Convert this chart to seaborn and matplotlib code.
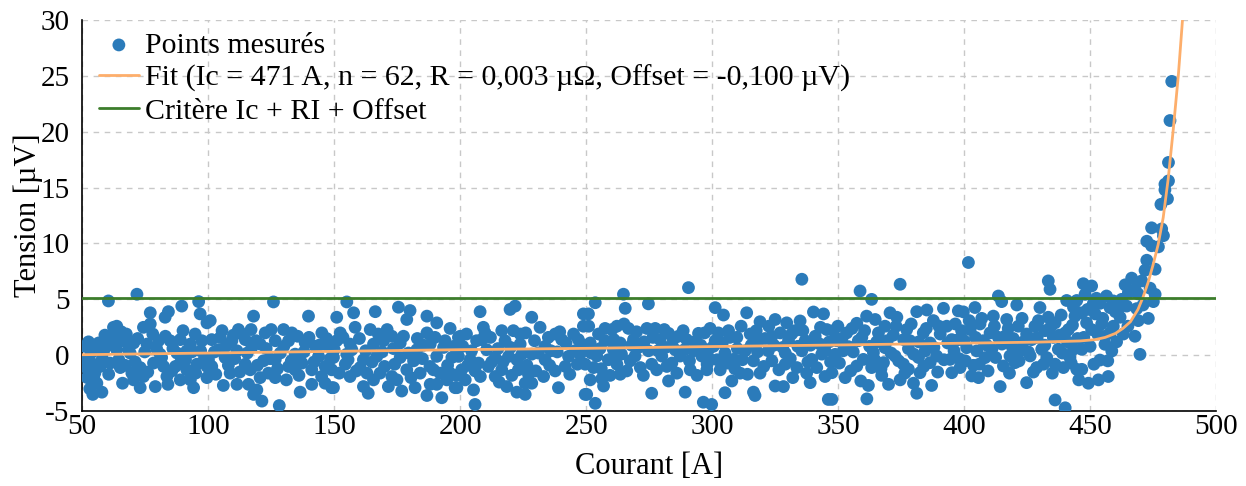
from matplotlib import pyplot as plt
import numpy as np
import pandas as pd
import seaborn as sns

pts_050_100 = [(51.0, 0.8), (51.5, -0.5), (51.6, -1.1), (52.0, -2.0), (52.5, 1.2), (53.0, -3.0),
               (54.2, -3.5), (53.2, -1.3), (54.5, 0.4), (54.5, -0.8), (54.5, -2.0), (55.8, -2.5),
               (56.5, 1.1), (57.1, -1.0), (57.8, -3.3), (58.5, 0.4), (59.8, 1.0), (60.4, 4.86),
               (61.1, -0.7), (62.4, 2.5), (62.4, 1.6), (63.7, 2.6), (63.7, 0.5), (65.1, -1.1),
               (66.4, 1.3), (68.4, 0.5), (69.7, -1.6), (70.4, 1.1), (70.4, -2.2), (71.7, 5.46),
               (73.0, -1.1), (73.0, -2.9), (74.3, 2.5), (74.3, -1.9), (75.7, 1.0), (77.0, 3.8),
               (77.0, 2.8), (78.3, -0.7), (79.0, -2.8), (80.3, 1.3), (80.9, 0.1), (82.3, -1.0),
               (82.9, 3.4), (83.6, -1.9), (84.2, 3.9), (84.9, 1.3), (85.6, -1.4), (87.6, 0.2),
               (88.9, 1.4), (88.9, -0.7), (88.9, -2.2), (89.5, 4.4), (91.5, 0.4), (91.5, -1.3),
               (92.9, 1.0), (92.9, -2.2), (94.2, -2.9), (94.8, 1.9), (95.5, -0.8), (96.2, 4.8),
               (96.8, 3.7), (97.5, 1.3), (99.5, 2.9), (99.5, -1.0), (99.5, -2.0),
               (53.5, 0.2), (55.0, -1.6), (56.0, 0.6), (58.0, -0.3), (59.0, 1.8), (60.5, -1.7),
               (62.0, 0.9), (64.5, -0.4), (65.5, 2.1), (67.0, -0.9), (67.5, 1.9), (69.0, 0.2),
               (71.0, -0.6), (72.0, 1.5), (74.8, 0.3), (76.0, -1.5), (78.0, 1.9), (79.5, 0.6),
               (81.5, -0.2), (83.0, 1.7), (86.0, 0.6), (87.0, -1.0), (90.0, 2.2), (91.0, -0.4),
               (93.5, 0.3), (95.0, -1.6), (97.0, 0.4), (98.5, -0.3), (66.0, -2.5), (84.0, -2.6)]
pts_100_150 = [(100.1, -0.4), (100.8, 3.1), (101.4, 1.4), (101.4, -1.0), (104.1, 0.5), (104.8, 1.6),
               (106.7, -0.2), (108.7, -1.6), (109.4, 1.3), (111.4, 0.4), (111.4, -2.6), (112.0, 2.3),
               (113.4, 1.9), (114.7, 1.4), (114.7, -0.8), (116.0, -2.6), (116.7, -1.3), (117.3, 0.7),
               (118.0, 3.5), (119.3, -3.1), (120.6, 1.0), (120.6, -2.0), (121.3, -4.1), (121.9, -0.5),
               (122.6, 2.0), (123.9, -1.6), (125.9, 4.77), (126.6, 1.3), (126.6, -0.4), (126.6, -2.0),
               (128.2, -4.5), (128.6, 0.2), (129.9, 2.3), (131.9, 1.3), (131.9, -1.0), (133.2, 2.0),
               (134.5, 0.1), (134.5, -1.3), (136.5, -3.3), (137.2, -0.7), (138.5, 1.1), (139.8, 3.5),
               (141.1, -1.3), (141.1, -2.6), (142.5, 0.8), (143.8, -0.1), (145.1, 2.0), (146.4, -1.0),
               (146.4, -2.5), (147.7, 0.8), (149.0, -2.9),
               (102.5, 0.3), (103.0, -1.7), (105.5, 2.2), (107.0, 0.8), (108.0, -0.9), (110.0, 1.8),
               (110.5, -0.3), (112.5, -1.5), (115.5, 0.2), (117.0, 2.3), (119.0, 1.3), (119.5, -0.9),
               (123.0, 0.6), (124.5, -0.3), (125.0, 2.3), (127.5, -1.2), (130.0, 0.8), (131.0, -2.2),
               (133.0, -0.5), (135.5, 1.7), (136.0, -1.8), (138.0, 0.3), (140.0, 1.6), (142.0, -0.6),
               (144.0, 0.9), (145.0, -1.9), (147.0, 1.5), (148.5, -0.3), (106.0, -2.7), (118.0, -3.5)]
pts_150_200 = [(149.0, -1.3), (149.7, -0.2), (149.7, -2.9), (151.0, 3.4), (151.0, 1.3), (152.4, 2.0),
               (154.4, -0.8), (155.0, 4.77), (155.0, 0.1), (156.3, 1.0), (156.3, -1.9), (157.7, 3.8),
               (158.3, 2.5), (160.3, -1.1), (161.6, -0.4), (161.6, -2.8), (164.3, 2.3), (165.6, 1.0),
               (165.6, -2.2), (166.3, 3.9), (166.9, -0.1), (168.2, -1.6), (169.6, 1.3), (171.5, -2.8),
               (172.9, 1.7), (172.9, -1.9), (174.9, -2.2), (175.5, 4.3), (176.2, 1.1), (176.2, -0.2),
               (176.8, -3.2), (178.8, 3.2), (178.8, -1.3), (180.1, 4.0), (181.5, -0.5), (182.1, -2.9),
               (182.8, 0.5), (184.1, -1.6), (186.8, 3.5), (186.8, 2.0), (186.8, -3.6), (188.1, 1.0),
               (188.1, -2.6), (189.4, -1.3), (190.7, 2.9), (190.7, -0.1), (190.7, -2.6), (192.7, -3.8),
               (193.4, 0.7), (194.7, -2.2), (196.0, 2.4), (196.0, -1.6), (196.7, -0.2), (198.0, -2.9),
               (199.3, 1.6),
               (150.0, 0.5), (152.0, -1.6), (153.5, 1.6), (155.5, -0.4), (157.0, 0.5), (158.8, -1.4),
               (160.0, 1.5), (162.5, 0.4), (163.0, -1.6), (165.0, -0.6), (167.5, 1.9), (169.0, 0.3),
               (170.0, -1.0), (171.0, 2.3), (173.5, 0.6), (174.0, -0.8), (177.5, 1.7), (179.5, 0.2),
               (180.5, -2.0), (183.0, 1.5), (185.0, -0.3), (185.5, 0.9), (188.0, -1.0), (190.0, 1.6),
               (192.0, -1.6), (194.0, 1.3), (195.0, -0.9), (197.5, 0.8), (198.5, -1.8), (163.5, -3.4)]
pts_200_250 = [(198.7, -2.9), (199.3, -0.1), (200.0, 1.7), (200.6, -1.3), (202.0, -2.2), (204.0, -0.4),
               (205.3, -3.1), (205.9, -1.4), (205.9, -4.4), (207.3, -0.7), (207.9, 3.9), (208.6, 1.4),
               (209.2, 2.5), (209.9, 2.0), (211.2, -1.0), (213.9, -0.2), (213.9, -1.9), (216.5, 2.2),
               (216.5, -1.3), (217.8, 1.3), (218.5, -2.8), (219.2, -0.1), (219.8, 4.1), (221.1, 2.2),
               (221.8, 4.4), (222.5, -0.4), (222.5, -3.3), (223.1, -1.3), (223.8, 1.9), (223.8, 1.0),
               (225.8, -2.5), (225.8, -3.5), (227.1, -1.7), (228.4, 3.4), (228.4, 0.1), (228.4, -2.5),
               (231.7, 2.5), (233.1, -1.9), (233.7, 0.8), (233.7, -0.4), (237.7, 1.9), (237.7, -1.4),
               (239.0, -2.9), (240.3, 1.4), (241.7, -1.0), (243.0, -0.1), (245.0, 1.9), (246.9, 1.4),
               (247.6, 0.1), (248.9, 3.7), (248.9, 2.6), (249.6, -3.5),
               (201.0, 0.8), (202.5, 1.9), (203.0, -0.9), (204.5, 0.4), (206.5, 1.3), (208.0, -1.9),
               (210.5, 0.5), (212.0, 1.6), (212.5, -0.6), (215.0, 0.6), (215.5, -2.4), (217.0, -0.6),
               (220.0, 0.7), (220.5, -1.8), (224.5, 0.1), (226.0, 2.0), (226.5, -0.9), (229.5, 1.3),
               (230.0, -1.4), (231.0, 0.2), (235.0, 1.6), (235.5, -0.9), (236.0, 0.4), (238.5, 0.3),
               (239.5, 2.1), (242.0, 1.1), (243.5, -1.7), (245.5, 0.4), (246.5, -0.8), (248.0, 1.0)]
pts_250_300 = [(249.6, 0.5), (249.6, -0.8), (250.2, -3.5), (250.9, 3.7), (251.6, 1.1), (251.6, -2.2),
               (252.9, -1.1), (253.6, 4.7), (253.6, -4.3), (254.2, -0.07), (254.9, 1.9), (256.2, -2.1),
               (256.9, -2.75), (257.5, 1.3), (258.8, -0.4), (260.2, 2.3), (260.8, 0.5), (262.2, 2.6),
               (262.2, -0.8), (263.5, 1.1), (263.5, -1.7), (264.8, 5.46), (265.5, 4.2), (266.1, -1.4),
               (266.8, 2.4), (268.8, 1.4), (269.4, -0.07), (270.7, 0.7), (272.7, -1.8), (274.1, 2.4),
               (274.7, 4.6), (274.7, 0.4), (276.0, -0.8), (276.0, -3.4), (277.4, 2.4), (278.0, -1.3),
               (279.3, 1.4), (280.0, -0.07), (282.0, -1.0), (282.7, 1.96), (282.7, -2.3), (285.3, 0.5),
               (286.6, 1.7), (287.3, -0.07), (289.3, -3.3), (289.9, 1.4), (290.6, 6.05), (291.3, -1.3),
               (292.6, 0.4), (294.6, 1.96), (295.9, -0.07), (296.5, -4.2), (297.9, -1.3),
               (251.0, 2.6), (252.0, 0.2), (255.5, 0.6), (256.0, -1.2), (257.5, 2.4), (259.5, -1.8),
               (261.0, 1.4), (261.5, -0.2), (264.0, 0.1), (265.0, 2.8), (267.5, -0.5), (268.0, 0.9),
               (270.0, 2.1), (271.5, -1.1), (273.0, 1.2), (276.5, 1.6), (278.5, 0.4), (281.0, 2.3),
               (281.5, 0.7), (284.0, -0.7), (284.5, 1.4), (286.0, -1.6), (288.5, 2.2), (289.0, 0.5),
               (291.0, -0.5), (293.0, 1.2), (294.0, -1.8), (295.5, 0.9), (297.0, 2.0), (298.0, -0.8)]
pts_300_350 = [(298.5, 0.5), (299.2, 2.4), (299.2, -0.37), (299.8, -4.4), (301.2, 4.26), (301.2, 1.3),
               (303.2, -1.3), (304.5, 3.6), (305.1, 0.2), (305.1, -3.35), (306.5, 2.2), (307.8, -2.3),
               (308.4, -0.37), (309.8, 1.6), (311.1, -1.6), (313.1, 0.4), (313.7, 3.8), (315.1, 1.9),
               (316.4, -0.5), (316.4, -3.3), (317.0, -3.6), (318.4, 1.3), (319.0, 3.0), (319.0, -1.6),
               (322.3, 0.4), (323.7, 1.7), (323.7, -0.5), (325.0, 3.2), (325.0, -2.75), (328.3, -2.8),
               (329.0, 0.2), (329.0, -0.8), (329.6, 2.9), (330.3, 1.3), (332.9, 2.2), (333.6, -1.1),
               (334.9, 3.07), (335.6, 6.8), (335.6, 0.4), (336.9, 1.3), (337.5, -1.6), (338.9, -2.45),
               (339.5, -0.37), (340.2, 3.87), (340.9, 1.7), (342.8, 1.0), (344.2, 3.7), (344.8, 0.4),
               (344.8, -1.9), (345.5, 2.3), (346.1, -3.95),
               (300.5, 0.8), (302.0, -0.4), (302.5, 2.0), (304.0, 1.1), (306.0, -0.7), (307.0, 1.6),
               (309.0, -1.2), (310.0, 0.6), (311.5, 2.6), (312.0, -0.4), (314.0, -1.7), (315.5, 0.9),
               (317.5, 2.2), (318.0, 0.3), (320.5, -1.0), (321.0, 1.5), (322.5, 2.6), (324.5, 0.9),
               (326.5, -1.3), (327.0, 2.0), (328.0, 0.7), (331.0, -0.3), (331.5, 1.9), (332.0, -2.0),
               (334.0, 0.8), (336.0, 2.2), (338.0, -0.6), (339.0, 0.9), (341.5, -1.1), (343.0, 2.5),
               (343.5, 0.1), (346.5, 1.2), (347.0, -0.6)]
pts_350_400 = [(347.5, -1.56), (347.5, -3.95), (348.1, 2.2), (348.8, 0.08), (349.4, 1.3), (352.8, -2.0),
               (353.4, 2.0), (354.1, 0.77), (357.4, 2.86), (357.4, -0.96), (358.7, 5.75), (359.4, 1.6),
               (360.0, -0.37), (361.3, 3.5), (361.4, -3.9), (362.0, -2.7), (363.3, 5.0), (363.3, -1.1),
               (364.0, 0.23), (364.7, 3.2), (365.3, 1.2), (367.3, -1.8), (368.0, -0.66), (368.6, 2.6),
               (368.6, 0.68), (370.6, 3.8), (371.9, 1.8), (372.6, -0.07), (373.3, 3.4), (374.6, 6.35),
               (374.6, -2.2), (375.9, -0.8), (377.2, 2.3), (377.9, 0.59), (377.9, -1.26), (378.5, 1.3),
               (379.9, -2.5), (381.2, 3.9), (381.2, -3.4), (381.9, -0.2), (382.5, -1.56), (383.8, 2.0),
               (384.5, 0.38), (385.2, 4.05), (386.5, 1.1), (386.5, -0.66), (387.1, -2.7), (387.8, 3.1),
               (389.1, -0.07), (390.5, 1.9), (391.8, 4.2), (393.1, 2.6), (394.4, -0.37), (395.1, 1.4),
               (395.1, -1.56),
               (349.9, 2.6), (350.5, -0.7), (351.5, 1.5), (352.0, 0.4), (355.0, -1.4), (355.5, 2.4),
               (356.0, 0.3), (358.0, 1.3), (359.0, -2.3), (360.5, 2.2), (362.5, 0.8), (364.5, -0.4),
               (366.0, 2.0), (367.0, -1.2), (369.5, 1.3), (370.0, -2.6), (371.0, 0.2), (373.0, 2.6),
               (374.0, -0.5), (376.0, 1.4), (376.5, -1.6), (379.0, 2.8), (380.0, 0.1), (382.0, 1.2),
               (384.0, -1.0), (385.0, 2.4), (388.0, 0.7), (389.5, -1.5), (390.0, 2.6), (392.0, -0.4),
               (393.5, 1.1), (396.0, 0.4), (396.5, 2.8), (398.0, -0.3)]
pts_400_446 = [(397.7, 3.97), (397.7, 1.4), (398.4, -1.1), (399.0, 2.2), (399.7, 3.88), (401.0, 0.68),
               (401.7, 8.3), (402.4, 2.3), (403.0, -1.85), (403.7, -0.9), (404.3, 4.27), (405.0, 0.39),
               (405.7, -2.0), (406.3, 2.8), (407.6, 1.3), (408.3, -0.21), (410.3, 2.0), (411.0, 0.54),
               (411.6, 3.5), (413.6, 5.3), (413.6, 1.6), (414.3, -2.8), (414.9, 4.8), (415.6, -0.96),
               (416.2, 1.7), (416.9, 3.2), (418.2, -0.06), (419.5, 1.5), (420.2, -0.66), (420.9, 4.5),
               (421.5, 2.6), (422.2, 0.39), (424.8, 1.9), (424.8, -2.45), (426.2, -0.06), (426.8, 1.4),
               (428.1, 2.6), (428.8, -1.1), (430.1, 4.27), (430.8, 0.54), (432.1, 2.2), (432.8, -0.21),
               (433.4, 6.65), (433.4, 3.4), (434.1, 5.9), (435.4, 1.6), (436.1, 2.9), (436.1, -0.8),
               (436.1, -4.0), (437.4, 0.54), (439.4, -1.1), (440.1, 2.0), (440.1, -4.7), (440.7, 4.9),
               (441.4, 2.3), (442.0, -0.21), (443.4, 4.3), (443.4, 0.54), (444.0, 3.5), (444.7, 4.9),
               (444.7, -1.26),
               (400.0, 1.3), (400.5, -0.5), (402.0, 3.1), (404.5, 1.6), (406.0, -0.8), (407.0, 3.3),
               (409.0, 0.9), (409.5, -1.4), (412.0, 2.6), (412.5, -0.2), (415.0, 1.0), (417.5, 2.4),
               (418.0, -1.6), (419.0, 0.8), (421.8, -0.5), (423.0, 3.3), (423.5, 1.2), (425.5, 0.3),
               (427.5, -1.5), (429.0, 1.6), (429.5, 3.1), (431.5, -0.8), (432.0, 0.9), (434.5, 2.6),
               (435.0, -1.6), (437.8, 1.8), (438.5, 3.6), (439.0, 0.2), (441.0, 1.2), (442.5, -0.7),
               (443.0, 2.7), (445.0, 1.5), (445.5, -2.2)]
pts_446_483 = [(446.7, 3.8), (446.7, 0.53), (446.7, -1.26), (447.3, 6.4), (448.0, 5.45), (448.6, 2.9),
               (449.3, -2.5), (450.6, 6.2), (450.6, 2.3), (451.3, 4.65), (452.0, 3.7), (453.3, -2.2),
               (453.9, -0.43), (454.0, 4.65), (454.6, 2.8), (455.9, 1.7), (455.9, 0.98), (457.2, -1.9),
               (457.9, 4.26), (458.6, 0.38), (459.2, 4.86), (459.2, 2.6), (461.2, 4.17), (461.9, 3.4),
               (463.2, 1.9), (463.9, 6.3), (465.2, 5.6), (466.5, 6.9), (467.8, 5.9), (467.8, 1.7),
               (468.5, 4.17), (469.1, 3.1), (469.8, 0.08), (470.5, 6.65), (471.8, 7.6), (472.5, 8.5),
               (472.5, 10.2), (473.1, 3.3), (473.8, 6.0), (474.4, 11.4), (474.4, 9.8), (475.1, 4.8),
               (475.8, 7.7), (475.8, 5.45), (477.1, 9.7), (478.1, 13.5), (478.4, 11.3), (479.1, 10.7),
               (479.7, 15.3), (479.7, 14.8), (480.7, 14.0), (481.1, 17.25), (481.1, 15.6), (481.7, 21.0),
               (482.4, 24.5),
               (447.5, 1.6), (449.0, 4.1), (450.0, 0.8), (451.5, -0.8), (452.5, 5.1), (453.0, 1.9),
               (455.0, 3.3), (456.5, 5.3), (457.0, -0.5), (458.0, 2.0), (460.0, 3.9), (460.5, 1.2),
               (462.5, 5.0), (464.5, 4.4), (465.0, 2.6), (469.0, 5.5), (471.0, 4.5)]

# fit curve
fit_courant = [50, 100, 150, 200, 250, 300, 350, 400, 430, 446, 452, 456, 460, 463, 466,
               469, 471, 473, 475, 477, 479, 481, 483, 485, 487]
fit_tension = [0.05, 0.2, 0.35, 0.5, 0.62, 0.78, 0.92, 1.08, 1.18, 1.28, 1.4, 1.6, 1.95, 2.4, 3.0,
               4.1, 5.2, 6.5, 8.1, 9.9, 12.3, 15.8, 20.2, 25.0, 31.0]
critere = 5.1

fit_label = 'Fit (Ic = 471 A, n = 62, R = 0,003 µΩ, Offset = -0,100 µV)'

points = pd.DataFrame(pts_050_100 + pts_100_150 + pts_150_200 + pts_200_250 + pts_250_300
                      + pts_300_350 + pts_350_400 + pts_400_446 + pts_446_483,
                      columns=['courant', 'tension'])
fit = pd.DataFrame({'courant': fit_courant, 'tension': fit_tension})

sns.set_style('white')
plt.rcParams['font.family'] = ['Liberation Serif', 'DejaVu Serif']
plt.rcParams['axes.unicode_minus'] = False
plt.rcParams['text.color'] = 'black'
plt.rcParams['axes.labelcolor'] = 'black'

fig = plt.figure(figsize=(12.46, 4.86), dpi=100)
ax = fig.add_axes([0.066, 0.154, 0.91, 0.805])

sns.scatterplot(x='courant', y='tension', data=points, ax=ax, color='#2b7bba', s=85,
                edgecolor='none', label='Points mesurés', zorder=3)
sns.lineplot(x='courant', y='tension', data=fit, ax=ax, color='#fdae6b', lw=2,
             label=fit_label, zorder=4)
ax.axhline(critere, color='#3c7d2b', lw=2, label='Critère Ic + RI + Offset', zorder=4)

ax.set_xlim(50, 500)
ax.set_ylim(-5, 30)
ax.set_xticks(np.arange(50, 501, 50))
ax.set_yticks(np.arange(-5, 31, 5))
ax.grid(True, color='#c8c8c8', ls=(0, (4, 4)), lw=1)
ax.set_axisbelow(True)
for side in ['top', 'right']:
    ax.spines[side].set_visible(False)
for side in ['left', 'bottom']:
    ax.spines[side].set_color('black')
    ax.spines[side].set_linewidth(1.2)
ax.tick_params(direction='in', length=5, width=1, labelsize=21, colors='black')
ax.tick_params(axis='x', pad=2)
ax.tick_params(axis='y', pad=9)
ax.set_xlabel('Courant [A]', fontsize=22, labelpad=9, color='black')
ax.set_ylabel('Tension [µV]', fontsize=22, labelpad=-2, color='black')

leg = ax.legend(loc='upper left', bbox_to_anchor=(0.004, 1.0), frameon=False, fontsize=21.5,
                handlelength=1.35, handletextpad=0.2, borderaxespad=0.0, labelspacing=0.2)
for txt in leg.get_texts():
    txt.set_color('black')

fig.savefig('out.png', dpi=100)
